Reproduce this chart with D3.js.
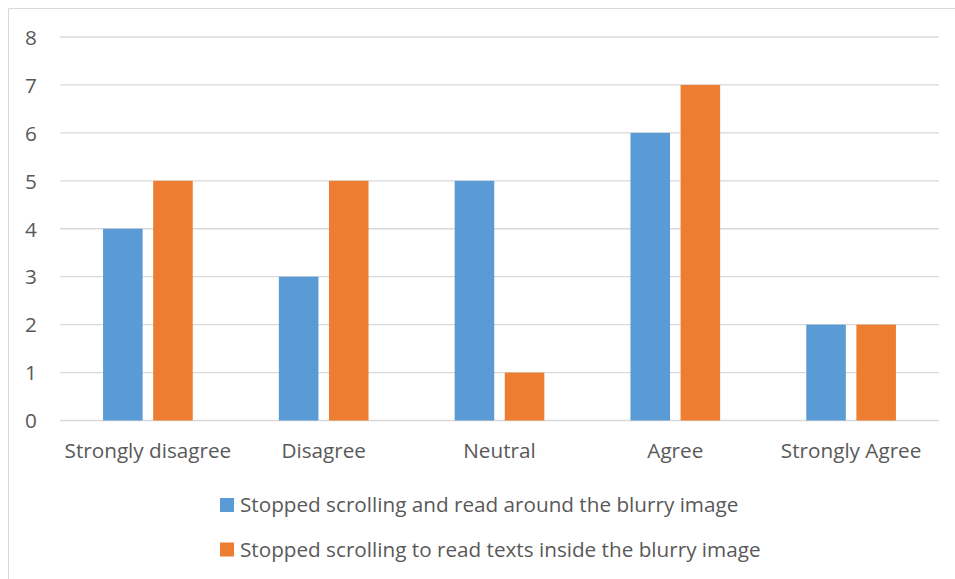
<!DOCTYPE html>
<html><head><meta charset="utf-8">
<script src="https://cdn.jsdelivr.net/npm/d3@7"></script>
<style>
html,body{margin:0;padding:0;background:#fff;}
svg{display:block;}
text{font-family:"Open Sans",sans-serif;fill:#595959;}
</style></head><body>
<svg id="chart" width="955" height="579"></svg>
<script>
const categories = ["Strongly disagree","Disagree","Neutral","Agree","Strongly Agree"];
const seriesNames = ["Stopped scrolling and read around the blurry image","Stopped scrolling to read texts inside the blurry image"];
const seriesA = [4,3,5,6,2];
const seriesB = [5,5,1,7,2];
const yTicks = [0,1,2,3,4,5,6,7,8];
const colors = ["#5B9BD5","#ED7D31"];

(function(){
const svg = d3.select("#chart");
svg.append("path").attr("d","M8.5,579 V8.5 H955").attr("fill","none").attr("stroke","#d9d9d9").attr("stroke-width",1);

const pL=60, pR=939, pT=37, pB=420.5;
const fs = 20.7;
const x = d3.scaleBand().domain(categories).range([pL,pR]).paddingInner(0).paddingOuter(0);
const y = d3.scaleLinear().domain([0,8]).range([pB,pT]);

svg.append("g").selectAll("line").data(yTicks).join("line")
  .attr("x1",pL).attr("x2",pR)
  .attr("y1",d=>y(d)).attr("y2",d=>y(d))
  .attr("stroke","#d9d9d9").attr("stroke-width",1.3);

const yAxis = d3.axisLeft(y).tickValues(yTicks).tickSize(0).tickPadding(0).tickFormat(d3.format("d"));
const ya = svg.append("g").attr("transform",`translate(${pL-29},0)`).call(yAxis);
ya.select(".domain").remove();
ya.selectAll("text").attr("font-size",fs).attr("fill","#595959").style("font-family","Open Sans").attr("text-anchor","middle").attr("dy","0.35em");

const xAxis = d3.axisBottom(x).tickSize(0).tickPadding(0);
const xa = svg.append("g").attr("transform",`translate(0,${pB+30})`).call(xAxis);
xa.select(".domain").remove();
xa.selectAll("text").attr("font-size",fs).attr("fill","#595959").style("font-family","Open Sans").attr("dy","0.35em");

const bw = x.bandwidth();
const barW = bw*0.225, gap = bw*0.06;
const sub = d3.scaleOrdinal().domain([0,1]).range([-(gap/2+barW), gap/2]);
const data = categories.map((c,i)=>({c, vals:[seriesA[i],seriesB[i]]}));
const g = svg.append("g");
data.forEach(d=>{
  d.vals.forEach((v,k)=>{
    g.append("rect")
      .attr("x", x(d.c)+bw/2+sub(k))
      .attr("y", y(v))
      .attr("width", barW)
      .attr("height", y(0)-y(v))
      .attr("fill", colors[k]);
  });
});

const lg = svg.append("g");
seriesNames.forEach((s,i)=>{
  const ly = 505 + i*44.5;
  lg.append("rect").attr("x",220).attr("y",ly-7).attr("width",14).attr("height",14).attr("fill",colors[i]);
  lg.append("text").attr("x",240).attr("y",ly).attr("dy","0.35em").attr("font-size",fs).text(s);
});
})();
</script>
</body></html>
